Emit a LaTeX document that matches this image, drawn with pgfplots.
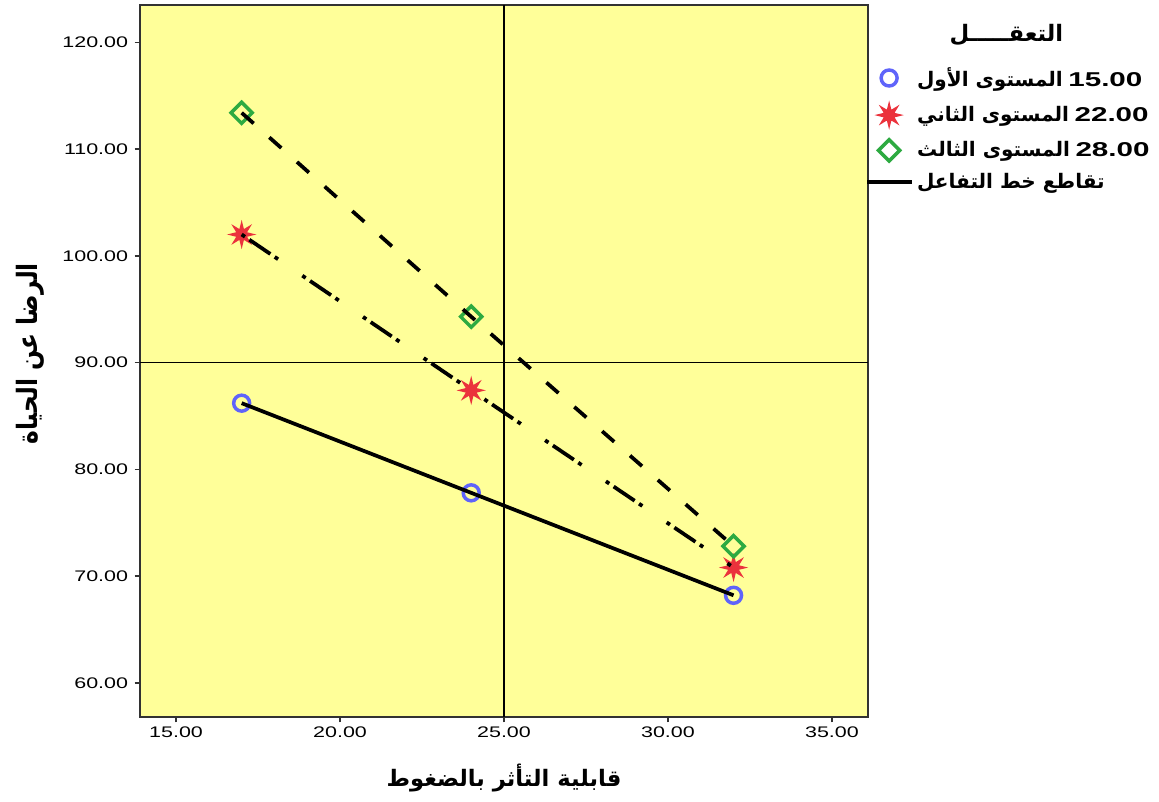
\documentclass[border=0pt]{standalone}
\usepackage{pgfplots}
\pgfplotsset{compat=1.18}
\usepackage{fontspec}
\setmainfont{Liberation Sans}
\newfontfamily\arabicfont[Script=Arabic]{DejaVu Sans}
\TeXXeTstate=1
\definecolor{bgyellow}{RGB}{255,255,153}
\definecolor{cblue}{RGB}{95,100,250}
\definecolor{cred}{RGB}{235,50,60}
\definecolor{cgreen}{RGB}{45,170,65}
\definecolor{axgray}{RGB}{50,50,50}
\pgfdeclareplotmark{star8}{%
  \pgfpathmoveto{\pgfpointpolar{90}{\pgfplotmarksize}}%
  \pgfpathlineto{\pgfpointpolar{112.5}{0.4\pgfplotmarksize}}%
  \pgfpathlineto{\pgfpointpolar{135}{\pgfplotmarksize}}%
  \pgfpathlineto{\pgfpointpolar{157.5}{0.4\pgfplotmarksize}}%
  \pgfpathlineto{\pgfpointpolar{180}{\pgfplotmarksize}}%
  \pgfpathlineto{\pgfpointpolar{202.5}{0.4\pgfplotmarksize}}%
  \pgfpathlineto{\pgfpointpolar{225}{\pgfplotmarksize}}%
  \pgfpathlineto{\pgfpointpolar{247.5}{0.4\pgfplotmarksize}}%
  \pgfpathlineto{\pgfpointpolar{270}{\pgfplotmarksize}}%
  \pgfpathlineto{\pgfpointpolar{292.5}{0.4\pgfplotmarksize}}%
  \pgfpathlineto{\pgfpointpolar{315}{\pgfplotmarksize}}%
  \pgfpathlineto{\pgfpointpolar{337.5}{0.4\pgfplotmarksize}}%
  \pgfpathlineto{\pgfpointpolar{0}{\pgfplotmarksize}}%
  \pgfpathlineto{\pgfpointpolar{22.5}{0.4\pgfplotmarksize}}%
  \pgfpathlineto{\pgfpointpolar{45}{\pgfplotmarksize}}%
  \pgfpathlineto{\pgfpointpolar{67.5}{0.4\pgfplotmarksize}}%
  \pgfpathclose
  \pgfusepathqfill
}
\newcommand{\num}[1]{\scalebox{1.48}[1]{\bfseries #1}}
\begin{document}
\begin{tikzpicture}
\begin{axis}[
  scale only axis, width=546pt, height=534pt,
  xmin=13.9, xmax=36.1, ymin=56.8, ymax=123.5,
  xtick={15,20,25,30,35}, ytick={60,70,80,90,100,110,120},
  tick align=outside, xtick pos=left, ytick pos=left,
  major tick length=4pt,
  axis line style={axgray, line width=1pt},
  every tick/.style={axgray, line width=1pt},
  axis background/.style={fill=bgyellow},
  tick label style={font=\fontsize{11.5}{13}\selectfont, xscale=1.4},
  /pgf/number format/.cd, fixed, fixed zerofill, precision=2, assume math mode=true,
  /pgfplots/.cd,
  clip mode=individual,
  xlabel={\arabicfont\bfseries\beginR قابلية التأثر بالضغوط\endR},
  ylabel={\arabicfont\bfseries\beginR الرضا عن الحياة\endR},
  xlabel style={at={(axis description cs:0.5,-0.086)}, anchor=center, font=\fontsize{17}{20}\selectfont},
  ylabel style={at={(axis description cs:-0.151,0.51)}, anchor=center, font=\fontsize{17.5}{20}\selectfont, yscale=1.2},
  legend style={at={(1.003,0.92)}, anchor=north west, draw=none, fill=none,
    font=\fontsize{15}{17}\selectfont, row sep=7pt},
  legend cell align=left,
]
\addplot[forget plot, black, line width=0.9pt] coordinates {(25,56.8) (25,123.5)};
\addplot[forget plot, black, line width=0.9pt] coordinates {(13.9,90) (36.1,90)};

\addplot[only marks, mark=o, mark size=6pt, mark options={draw=cblue, line width=2.6pt}]
  coordinates {(17,86.2) (24,77.8) (32,68.2)};
\addlegendentry{\hspace*{8pt}{\arabicfont\bfseries\beginR المستوى الأول\endR}\ \num{15.00}}
\addplot[only marks, mark=star8, mark size=11pt, mark options={fill=cred, draw=none}]
  coordinates {(17,102.0) (24,87.4) (32,70.8)};
\addlegendentry{\hspace*{8pt}{\arabicfont\bfseries\beginR المستوى الثاني\endR}\ \num{22.00}}
\addplot[only marks, mark=square, mark size=5.6pt, mark options={draw=cgreen, line width=2.6pt, rotate=45}]
  coordinates {(17,113.4) (24,94.3) (32,72.8)};
\addlegendentry{\hspace*{8pt}{\arabicfont\bfseries\beginR المستوى الثالث\endR}\ \num{28.00}}

\addplot[forget plot, black, line width=2.8pt] coordinates {(17,86.2) (24,77.8) (32,68.2)};
\addplot[forget plot, black, line width=2.8pt, dash pattern=on 3pt off 4pt on 19pt off 4pt on 3pt off 22pt] coordinates {(17,102.0) (24,87.4) (32,70.8)};
\addplot[forget plot, black, line width=2.8pt, dash pattern=on 12pt off 15.75pt] coordinates {(17,113.4) (24,94.3) (32,72.8)};

\addlegendimage{legend image code/.code={\draw[overlay, black, line width=2.8pt] (-8pt,0pt) -- (26pt,0pt); \path (0pt,0pt) -- (17pt,0pt);}}
\addlegendentry{\hspace*{8pt}\arabicfont\bfseries\beginR تقاطع خط التفاعل\endR}

\node[font=\arabicfont\bfseries\fontsize{17}{20}\selectfont] at (axis description cs:1.19,0.958) {\beginR التعقـــــل\endR};
\end{axis}
\pgfresetboundingbox
\path (-105pt,-63.75pt) rectangle (764.25pt,537.75pt);
\end{tikzpicture}
\end{document}
